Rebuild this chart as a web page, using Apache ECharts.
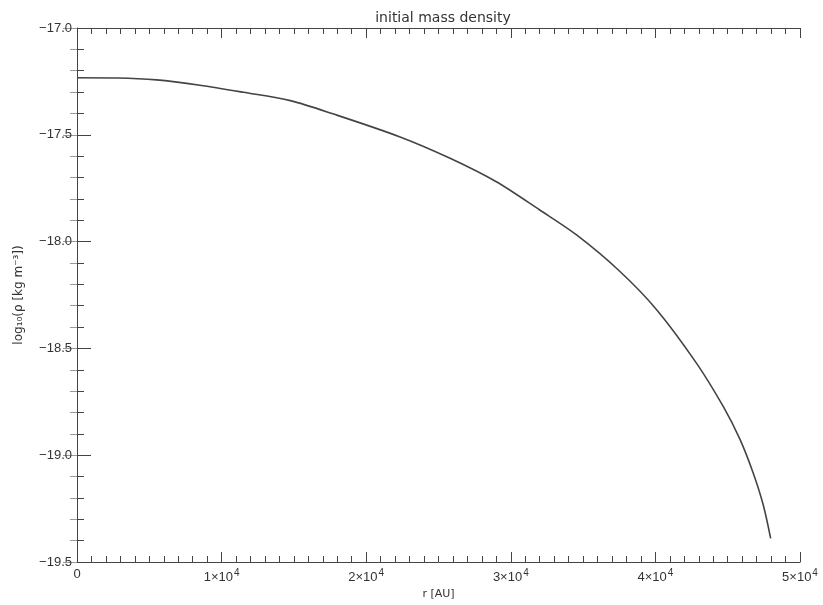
<!DOCTYPE html>
<html>
<head>
<meta charset="utf-8">
<script src="https://cdn.jsdelivr.net/npm/echarts@6/dist/echarts.min.js"></script>
<style>
  html, body { margin: 0; padding: 0; background: #fff; }
  #main { width: 823px; height: 605px; }
</style>
</head>
<body>
<div id="main"></div>
<script>
// radius in AU
var radius = [0, 2800, 5500, 8500, 11500, 14750, 17750, 22300, 25800, 29000,
  32000, 34550, 37550, 40100, 42850, 44700, 45850, 46750, 47450, 47970];
// log10 density [kg m^-3]
var logRho = [-17.233, -17.234, -17.243, -17.268, -17.301, -17.340, -17.403, -17.509, -17.610, -17.720,
  -17.852, -17.969, -18.140, -18.320, -18.570, -18.773, -18.926, -19.081, -19.231, -19.389];

// x tick labels: mantissa and exponent
var xTickBase = ['0', '1×10', '2×10', '3×10', '4×10', '5×10'];
var xTickExp = ['', '4', '4', '4', '4', '4'];

var points = radius.map(function (r, i) { return [r, logRho[i]]; });

var axisCol = '#444';
var font = 'Liberation Sans';

var myChart = echarts.init(document.getElementById('main'));

myChart.setOption({
    animation: false,
    title: {
        text: 'initial mass density',
        left: 438,
        textAlign: 'center',
        top: 6,
        textStyle: { fontFamily: 'DejaVu Sans', fontSize: 14, fontWeight: 'normal', color: '#333' }
    },
    grid: { left: 77, right: 23, top: 28, bottom: 43 },
    xAxis: [{
        type: 'value',
        min: 0, max: 50000, interval: 10000,
        name: 'r [AU]',
        nameLocation: 'middle',
        nameGap: 26,
        nameTextStyle: { fontFamily: 'DejaVu Sans', fontSize: 11, color: '#333' },
        axisLine: { lineStyle: { color: axisCol, width: 1 } },
        axisTick: { inside: true, length: 10, lineStyle: { color: axisCol } },
        minorTick: { show: true, splitNumber: 10, length: 6, lineStyle: { color: axisCol } },
        splitLine: { show: false },
        axisLabel: {
            margin: 6,
            fontFamily: font, fontSize: 13, color: '#333',
            formatter: function (v) {
                var i = Math.round(v / 10000);
                return xTickExp[i] ? '{b|' + xTickBase[i] + '}{e|' + xTickExp[i] + '}' : '{b|' + xTickBase[i] + '}';
            },
            rich: {
                b: { fontFamily: font, fontSize: 13, color: '#333' },
                e: { fontFamily: font, fontSize: 10, color: '#333', padding: [0, 0, 8, 1] }
            }
        }
    }, {
        type: 'value',
        position: 'top',
        min: 0, max: 50000, interval: 10000,
        axisLine: { lineStyle: { color: axisCol, width: 1 } },
        axisTick: { inside: true, length: 10, lineStyle: { color: axisCol } },
        minorTick: { show: true, splitNumber: 10, length: 6, lineStyle: { color: axisCol } },
        splitLine: { show: false },
        axisLabel: { show: false }
    }],
    yAxis: [{
        type: 'value',
        min: -19.5, max: -17.0, interval: 0.5,
        name: 'log₁₀(ρ [kg m⁻³])',
        nameLocation: 'middle',
        nameGap: 52,
        nameTextStyle: { fontFamily: 'DejaVu Sans', fontSize: 12, color: '#333' },
        axisLine: { lineStyle: { color: axisCol, width: 1 } },
        axisTick: { inside: true, length: 14, lineStyle: { color: axisCol } },
        minorTick: { show: true, splitNumber: 5, length: 7, lineStyle: { color: axisCol } },
        splitLine: { show: false },
        axisLabel: {
            margin: 5,
            fontFamily: font, fontSize: 13, color: '#333',
            formatter: function (v) { return v.toFixed(1).replace('-', '−'); }
        }
    }, {
        type: 'value',
        position: 'right',
        min: -19.5, max: -17.0, interval: 0.5,
        axisLine: { show: false },
        axisTick: { inside: true, length: 14, lineStyle: { color: '#999' } },
        minorTick: { show: true, splitNumber: 5, length: 7, lineStyle: { color: '#999' } },
        splitLine: { show: false },
        axisLabel: { show: false }
    }],
    series: [{
        type: 'line',
        xAxisIndex: 0,
        yAxisIndex: 0,
        data: points,
        smooth: 0.3,
        showSymbol: false,
        lineStyle: { color: '#444', width: 1.6 }
    }]
});
</script>
</body>
</html>
